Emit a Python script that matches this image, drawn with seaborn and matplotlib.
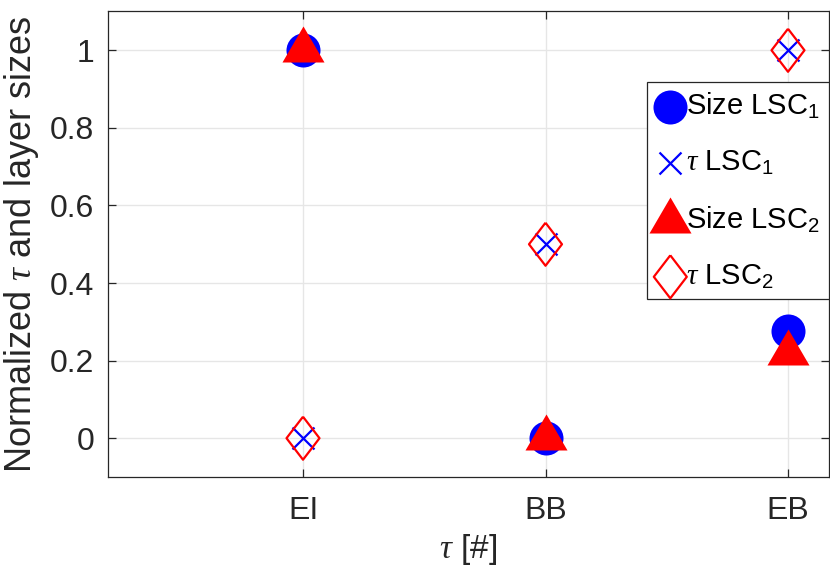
import numpy as np
import pandas as pd
import matplotlib
matplotlib.use("Agg")
import matplotlib.pyplot as plt
import seaborn as sns

# Categories on the x axis
categories = ["EI", "BB", "EB"]

# Normalized values per series
size_lsc1 = [1.0, 0.0, 0.277]
tau_lsc1 = [0.0, 0.5, 1.0]
size_lsc2 = [1.0, 0.0, 0.22]
tau_lsc2 = [0.0, 0.5, 1.0]

y_ticks = [0, 0.2, 0.4, 0.6, 0.8, 1]
y_tick_labels = ["0", "0.2", "0.4", "0.6", "0.8", "1"]

sns.set_theme(style="white")
plt.rcParams["font.family"] = ["Liberation Sans", "DejaVu Sans"]
plt.rcParams["mathtext.fontset"] = "custom"
plt.rcParams["mathtext.rm"] = "Liberation Sans"
plt.rcParams["mathtext.it"] = "Liberation Serif:italic"
plt.rcParams["mathtext.bf"] = "Liberation Sans:bold"

text_color = "#262626"
W, H = 830, 574
fig = plt.figure(figsize=(W / 100, H / 100), dpi=100)
left, right, top, bottom = 108, 829, 11.5, 477
ax = fig.add_axes([left / W, 1 - bottom / H, (right - left) / W, (bottom - top) / H])

pos = np.arange(1, len(categories) + 1)
df = pd.DataFrame({
    "pos": pos,
    "size_lsc1": size_lsc1,
    "tau_lsc1": tau_lsc1,
    "size_lsc2": size_lsc2,
    "tau_lsc2": tau_lsc2,
})

# Triangle with its centroid on the data point, and a tall diamond
tri = [(0, 24), (-21, -12), (21, -12), (0, 24)]
dia = [(0, 21.5), (16.5, 0), (0, -21.5), (-16.5, 0), (0, 21.5)]

sns.scatterplot(data=df, x="pos", y="size_lsc1", marker="o", s=600,
                color="#0000ff", linewidth=0, ax=ax, label=r"Size LSC$_1$", zorder=3)
sns.scatterplot(data=df, x="pos", y="tau_lsc1", marker="x", s=250,
                color="#0000ff", linewidth=1.6, ax=ax, label=r"$\tau$ LSC$_1$", zorder=4)
sns.scatterplot(data=df, x="pos", y="size_lsc2", marker=tri, s=1196,
                color="#ff0000", linewidth=0, ax=ax, label=r"Size LSC$_2$", zorder=5)
sns.scatterplot(data=df, x="pos", y="tau_lsc2", marker=dia, s=958,
                color="#ff0000", linewidth=1.6, ax=ax, label=r"$\tau$ LSC$_2$", zorder=6)
diamonds = ax.collections[-1]
diamonds.set_facecolor("none")
diamonds.set_edgecolor("#ff0000")

ax.set_xlim(1 + (left - 303) / 242.5, 1 + (right - 303) / 242.5)
ax.set_ylim(-0.1, 1.1)
ax.set_xticks(pos)
ax.set_xticklabels(categories)
ax.set_yticks(y_ticks)
ax.set_yticklabels(y_tick_labels)

ax.grid(True, color="#e6e6e6", linewidth=1.0)
ax.set_axisbelow(True)
for sp in ax.spines.values():
    sp.set_visible(True)
    sp.set_color(text_color)
    sp.set_linewidth(0.9)
ax.tick_params(axis="both", which="both", direction="in", length=6, width=0.9,
               color=text_color, labelcolor=text_color, labelsize=23,
               top=True, right=True, bottom=True, left=True)
ax.tick_params(axis="y", pad=10)
ax.tick_params(axis="x", pad=14)

ax.set_xlabel(r"$\tau$ [#]", fontsize=24, color=text_color, labelpad=4)
ax.set_ylabel(r"Normalized $\tau$ and layer sizes", fontsize=26, color=text_color, labelpad=6)

leg = ax.legend(loc="upper right", bbox_to_anchor=(1.0, 1 - (82 - top) / (bottom - top)),
                bbox_transform=ax.transAxes, borderaxespad=0, fontsize=21,
                frameon=True, fancybox=False, shadow=False, framealpha=1,
                edgecolor=text_color, handlelength=1.0, handletextpad=0.05,
                borderpad=0.3, labelspacing=0.95, markerscale=1.0)
leg.get_frame().set_linewidth(0.9)
for t in leg.get_texts():
    t.set_color("black")

fig.savefig("out.png", dpi=100)
